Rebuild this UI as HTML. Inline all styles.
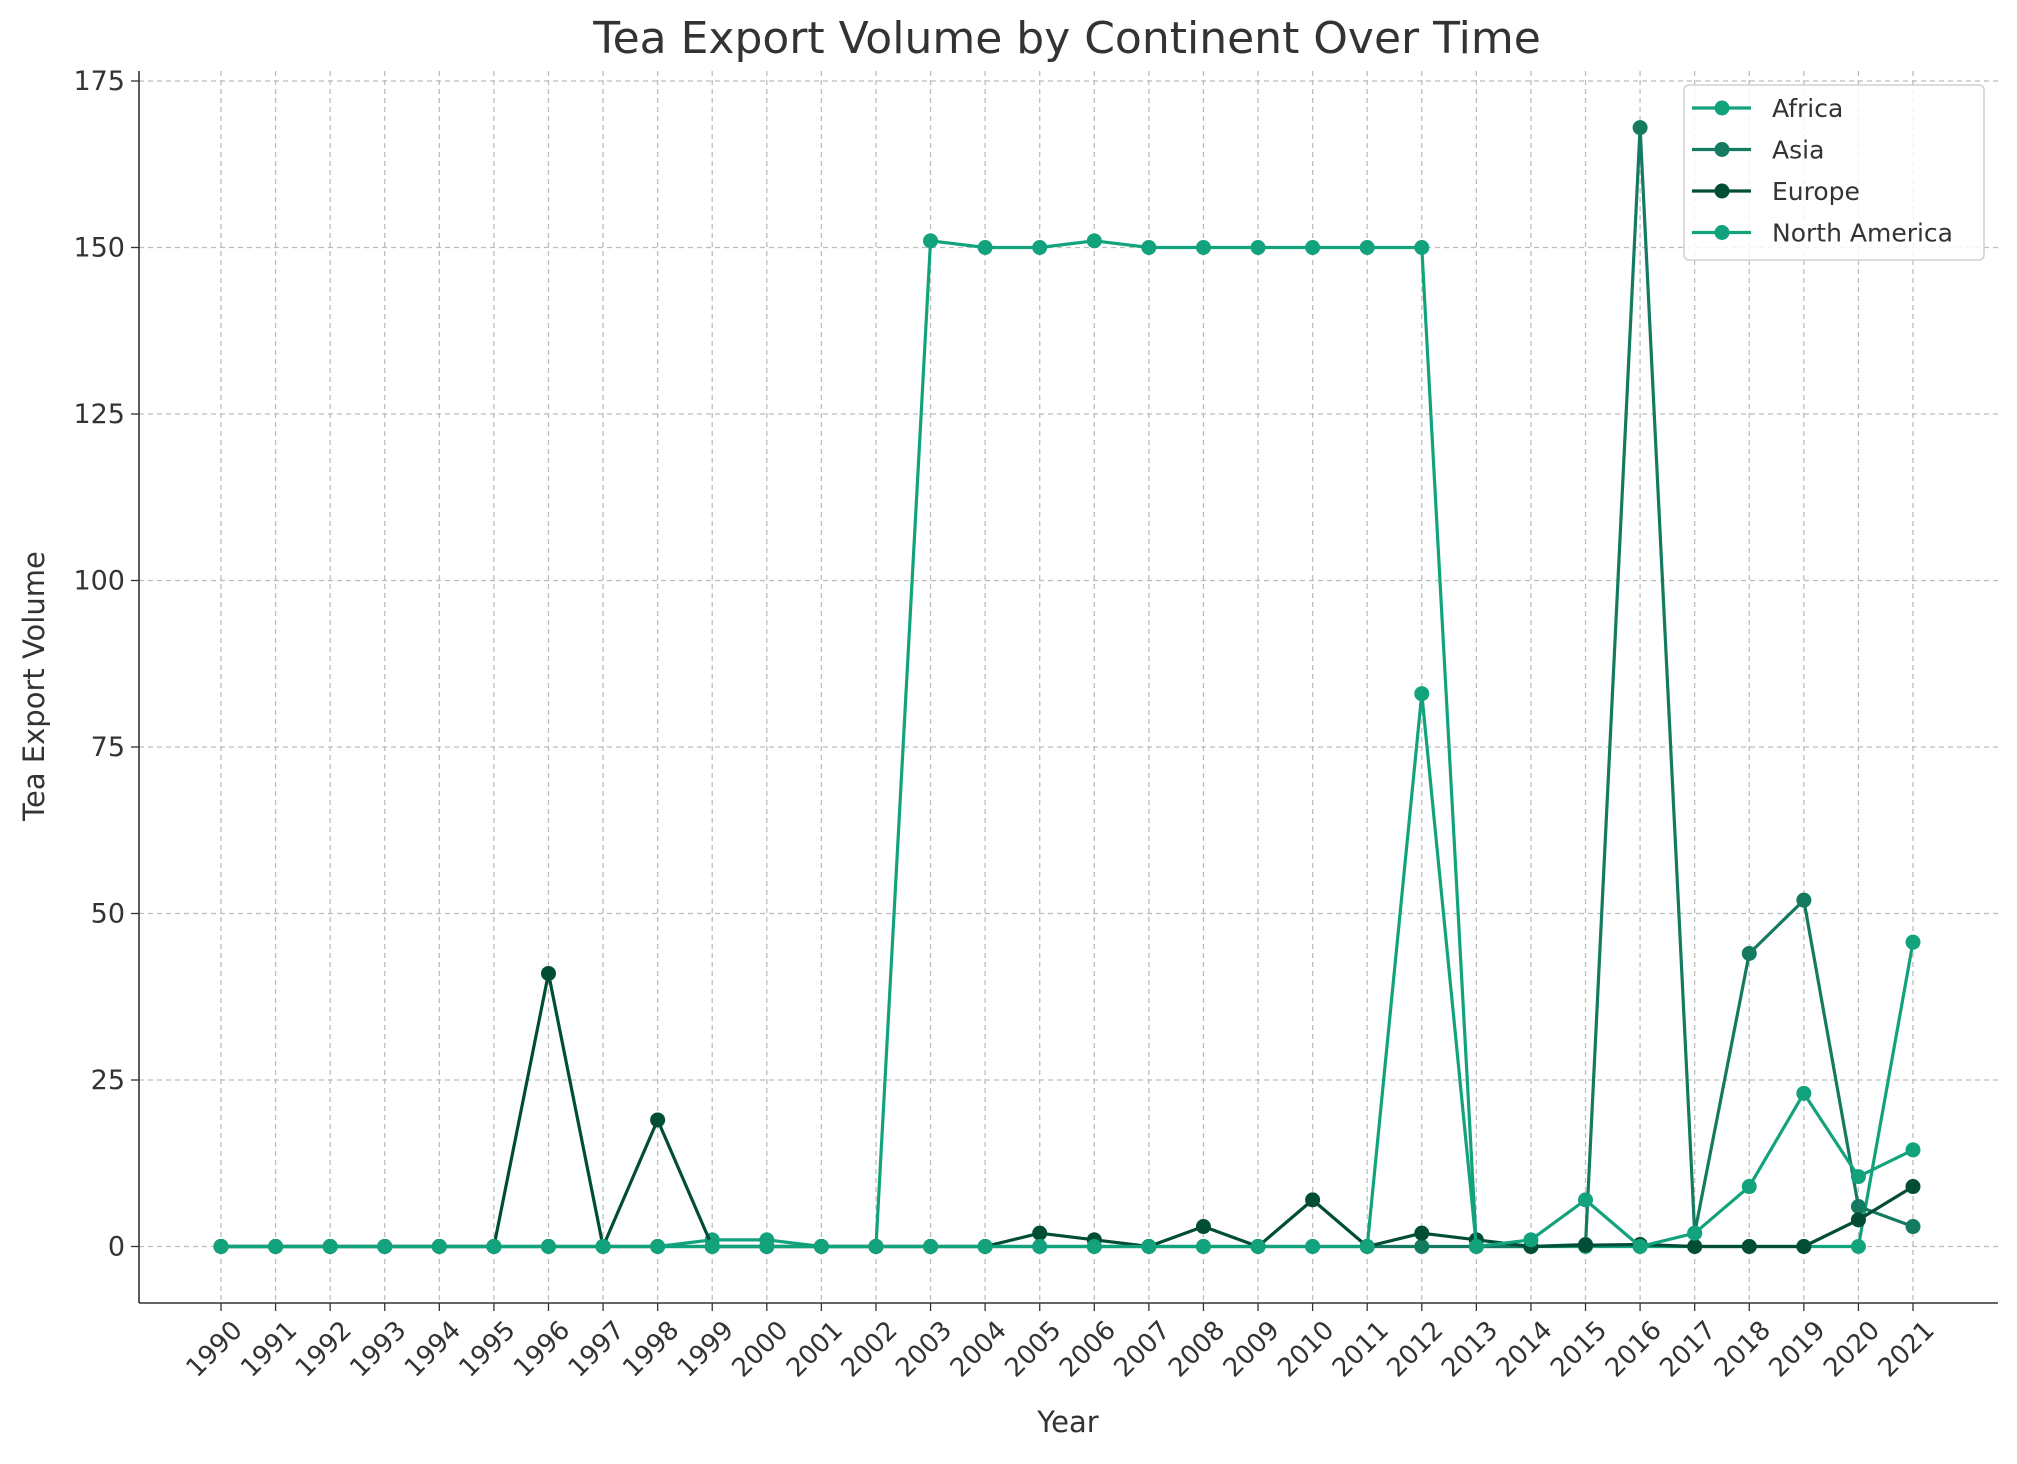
<!DOCTYPE html>
<html><head><meta charset="utf-8"><style>
body{margin:0;background:#fff;font-family:"DejaVu Sans","Liberation Sans",sans-serif;}
svg text{font-family:"DejaVu Sans","Liberation Sans",sans-serif;fill:#333;}
</style></head><body>
<svg id="chart" width="2017" height="1460" viewBox="0 0 2017 1460" xmlns="http://www.w3.org/2000/svg">
<text x="1067" y="53" font-size="44" text-anchor="middle">Tea Export Volume by Continent Over Time</text>
<text x="1068" y="1432" font-size="29" text-anchor="middle">Year</text>
<text x="44" y="686" font-size="29" text-anchor="middle" transform="rotate(-90 44 686)">Tea Export Volume</text>
<g id="grid"></g><g id="axes"></g><g id="series"></g><g id="legend"></g>
</svg>
<script>
const years=[1990,1991,1992,1993,1994,1995,1996,1997,1998,1999,2000,2001,2002,2003,2004,2005,2006,2007,2008,2009,2010,2011,2012,2013,2014,2015,2016,2017,2018,2019,2020,2021];
const yTicks=[0,25,50,75,100,125,150,175];
const africa=[0,0,0,0,0,0,0,0,0,1,1,0,0,151,150,150,151,150,150,150,150,150,150,0,0,0,0,0,0,0,0,45.7];
const asia=[0,0,0,0,0,0,0,0,0,0,0,0,0,0,0,0,0,0,0,0,0,0,0,0,0,0.3,168,2,44,52,6,3];
const europe=[0,0,0,0,0,0,41,0,19,0,0,0,0,0,0,2,1,0,3,0,7,0,2,1,0,0.2,0.3,0,0,0,4,9];
const northAmerica=[0,0,0,0,0,0,0,0,0,0,0,0,0,0,0,0,0,0,0,0,0,0,83,0,1,7,0,2,9,23,10.5,14.5];
const seriesNames=["Africa","Asia","Europe","North America"];
const seriesColors=["#12a37c","#147a60","#014d36","#12a37c"];
const seriesData=[africa,asia,europe,northAmerica];

const NS="http://www.w3.org/2000/svg";
const L=139,R=1998,T=71,B=1303;
const x=yr=>221+(yr-1990)*(1913-221)/31;
const y=v=>1246.5-v*(1246.5-81)/175;
function mk(tag,attrs,parent){const e=document.createElementNS(NS,tag);for(const k in attrs)e.setAttribute(k,attrs[k]);parent.appendChild(e);return e;}
const grid=document.getElementById('grid'),axes=document.getElementById('axes'),ser=document.getElementById('series'),leg=document.getElementById('legend');
years.forEach(yr=>{
  const g=mk('line',{x1:x(yr),x2:x(yr),y1:T,y2:B,stroke:'#bdbdbd','stroke-width':1.3,'stroke-dasharray':'5,4'},grid);
  
  
  const t=mk('line',{x1:x(yr),x2:x(yr),y1:B,y2:B+8,stroke:'#333','stroke-width':1.3},axes);
  
  
  const lb=mk('text',{x:x(yr)+8,y:B+14,'font-size':26,'text-anchor':'end',transform:`rotate(-45 ${x(yr)+8} ${B+14})`,dy:'0.8em'},axes);
  lb.textContent=yr;
  
  
});
yTicks.forEach(v=>{
  const g=mk('line',{x1:L,x2:R,y1:y(v),y2:y(v),stroke:'#bdbdbd','stroke-width':1.3,'stroke-dasharray':'5,4'},grid);
  
  
  const t=mk('line',{x1:L-8,x2:L,y1:y(v),y2:y(v),stroke:'#333','stroke-width':1.3},axes);
  
  
  const lb=mk('text',{x:L-14,y:y(v)+9,'font-size':27,'text-anchor':'end'},axes);
  lb.textContent=v;
  
  
});
const ax1=mk('line',{x1:L,x2:L,y1:T,y2:B,stroke:'#333','stroke-width':1.6},axes);


const ax2=mk('line',{x1:L,x2:R,y1:B,y2:B,stroke:'#333','stroke-width':1.6},axes);


seriesData.forEach((d,i)=>{
  const g=mk('g',{},ser);
  
  
  const p=mk('polyline',{points:d.map((v,j)=>x(years[j])+','+y(v)).join(' '),fill:'none',stroke:seriesColors[i],'stroke-width':3.2,'stroke-linejoin':'round'},g);
  
  
  d.forEach((v,j)=>{
    const c=mk('circle',{cx:x(years[j]),cy:y(v),r:7.5,fill:seriesColors[i]},g);
    
    
  });
});
const lb=mk('rect',{x:1684,y:85,width:300,height:175,rx:5,fill:'#fff','fill-opacity':0.85,stroke:'#d0d0d0','stroke-width':1.5},leg);


seriesNames.forEach((n,i)=>{
  const yy=108+i*41.5;
  const g=mk('g',{},leg);
  
  
  mk('line',{x1:1692,x2:1751,y1:yy,y2:yy,stroke:seriesColors[i],'stroke-width':3.2},g);
  mk('circle',{cx:1722,cy:yy,r:7.5,fill:seriesColors[i]},g);
  const t=mk('text',{x:1772,y:yy+9,'font-size':25},g);
  t.textContent=n;
});
</script>
</body></html>
